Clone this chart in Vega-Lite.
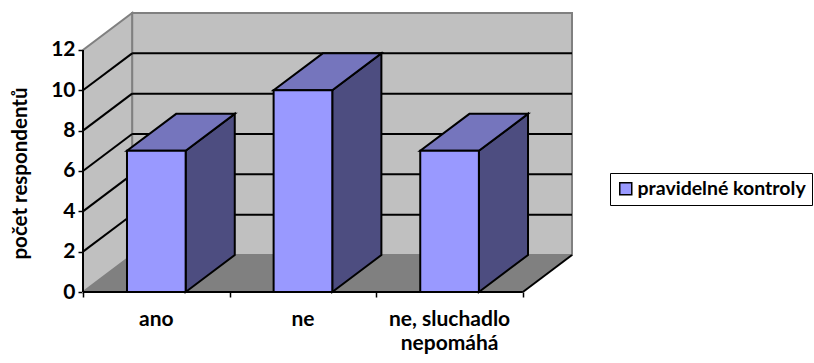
{
  "$schema": "https://vega.github.io/schema/vega-lite/v6.json",
  "width": 489,
  "height": 279,
  "autosize": {"type": "none"},
  "padding": {"left": 83, "top": 13, "right": 242, "bottom": 71},
  "background": "white",
  "params": [
    {"name": "hloubkaX", "value": 0.335},
    {"name": "hloubkaY", "value": 1.834},
    {"name": "maximum", "value": 12},
    {"name": "pocetSkupin", "value": 3}
  ],
  "datasets": {
    "odpovedi": [
      {"odpoved": "ano", "pocet": 7},
      {"odpoved": "ne", "pocet": 10},
      {"odpoved": "ne, sluchadlo\nnepomáhá", "pocet": 7}
    ],
    "mrizka": [
      {"uroven": 2},
      {"uroven": 4},
      {"uroven": 6},
      {"uroven": 8},
      {"uroven": 10}
    ],
    "ram": [{"cast": "ram"}]
  },
  "data": {"name": "odpovedi"},
  "config": {
    "view": {"stroke": null},
    "font": "Lato",
    "axis": {"grid": false, "domain": false, "zindex": 2}
  },
  "layer": [
    {
      "data": {"name": "ram"},
      "transform": [
        {"calculate": "hloubkaX", "as": "x0"},
        {"calculate": "pocetSkupin + hloubkaX", "as": "x1"},
        {"calculate": "hloubkaY", "as": "y0"},
        {"calculate": "maximum + hloubkaY", "as": "y1"}
      ],
      "mark": {"type": "rect", "fill": "#c0c0c0", "stroke": "#808080", "strokeWidth": 2},
      "encoding": {
        "x": {
          "field": "x0", "type": "quantitative",
          "scale": {"domain": [0, 3.335], "nice": false, "zero": false},
          "axis": {
            "values": [0, 1, 2, 3], "labels": false, "title": null,
            "ticks": true, "tickSize": 5, "tickWidth": 1.5, "tickColor": "black"
          }
        },
        "x2": {"field": "x1"},
        "y": {
          "field": "y0", "type": "quantitative",
          "scale": {"domain": [0, 13.834], "nice": false, "zero": false},
          "axis": {
            "values": [0, 2, 4, 6, 8, 10, 12],
            "tickSize": 5, "tickWidth": 1.5, "tickColor": "black",
            "labelFont": "Lato", "labelFontWeight": "bold", "labelFontSize": 21,
            "labelColor": "black", "labelPadding": 3,
            "title": "počet respondentů",
            "titleFont": "Lato", "titleFontWeight": "bold", "titleFontSize": 20.5,
            "titleColor": "black",
            "titleX": -63, "titleY": 160, "titleAngle": -90,
            "titleAlign": "center", "titleBaseline": "middle"
          }
        },
        "y2": {"field": "y1"}
      }
    },
    {
      "data": {"name": "ram"},
      "transform": [
        {"calculate": "[0, 1]", "as": "k"},
        {"flatten": ["k"]},
        {"calculate": "datum.k * hloubkaX", "as": "sx"},
        {"calculate": "datum.k * hloubkaY", "as": "sy0"},
        {"calculate": "maximum + datum.k * hloubkaY", "as": "sy1"}
      ],
      "mark": {"type": "area", "orient": "vertical", "fill": "#c0c0c0", "stroke": "#808080", "strokeWidth": 2},
      "encoding": {
        "x": {"field": "sx", "type": "quantitative"},
        "y": {"field": "sy0", "type": "quantitative", "stack": null},
        "y2": {"field": "sy1"}
      }
    },
    {
      "data": {"name": "ram"},
      "transform": [
        {"calculate": "[0, 1]", "as": "k"},
        {"flatten": ["k"]},
        {"calculate": "datum.k * hloubkaY", "as": "fy"},
        {"calculate": "datum.k * hloubkaX", "as": "fx0"},
        {"calculate": "pocetSkupin + datum.k * hloubkaX", "as": "fx1"}
      ],
      "mark": {"type": "area", "orient": "horizontal", "fill": "#808080"},
      "encoding": {
        "y": {"field": "fy", "type": "quantitative"},
        "x": {"field": "fx0", "type": "quantitative", "stack": null},
        "x2": {"field": "fx1"}
      }
    },
    {
      "data": {"name": "mrizka"},
      "transform": [
        {"calculate": "hloubkaX", "as": "x0"},
        {"calculate": "pocetSkupin + hloubkaX", "as": "x1"},
        {"calculate": "datum.uroven + hloubkaY", "as": "yz"}
      ],
      "mark": {"type": "rule", "color": "black", "strokeWidth": 2},
      "encoding": {
        "x": {"field": "x0", "type": "quantitative"},
        "x2": {"field": "x1"},
        "y": {"field": "yz", "type": "quantitative"}
      }
    },
    {
      "data": {"name": "mrizka"},
      "transform": [
        {"calculate": "0", "as": "x0"},
        {"calculate": "hloubkaX", "as": "x1"},
        {"calculate": "datum.uroven + hloubkaY", "as": "yz"}
      ],
      "mark": {"type": "rule", "color": "black", "strokeWidth": 2},
      "encoding": {
        "x": {"field": "x0", "type": "quantitative"},
        "x2": {"field": "x1"},
        "y": {"field": "uroven", "type": "quantitative"},
        "y2": {"field": "yz"}
      }
    },
    {
      "data": {"name": "ram"},
      "transform": [
        {"calculate": "[0, 1, 2]", "as": "k"},
        {"flatten": ["k"]},
        {"calculate": "datum.k == 2 ? pocetSkupin : 0", "as": "x0"},
        {"calculate": "0", "as": "y0"},
        {"calculate": "datum.k == 0 ? 0 : datum.k == 1 ? pocetSkupin : pocetSkupin + hloubkaX", "as": "x1"},
        {"calculate": "datum.k == 0 ? maximum : datum.k == 1 ? 0 : hloubkaY", "as": "y1"}
      ],
      "mark": {"type": "rule", "color": "black", "strokeWidth": 2},
      "encoding": {
        "x": {"field": "x0", "type": "quantitative"},
        "x2": {"field": "x1"},
        "y": {"field": "y0", "type": "quantitative"},
        "y2": {"field": "y1"}
      }
    },
    {
      "transform": [
        {"window": [{"op": "row_number", "as": "poradi"}]},
        {"calculate": "[0, 1]", "as": "k"},
        {"flatten": ["k"]},
        {"calculate": "datum.poradi - 0.3 + datum.k * hloubkaX", "as": "sx"},
        {"calculate": "datum.k * hloubkaY", "as": "sy0"},
        {"calculate": "datum.pocet + datum.k * hloubkaY", "as": "sy1"}
      ],
      "mark": {"type": "area", "orient": "vertical", "fill": "#4d4d80", "stroke": "black", "strokeWidth": 2, "strokeJoin": "miter"},
      "encoding": {
        "x": {"field": "sx", "type": "quantitative"},
        "y": {"field": "sy0", "type": "quantitative", "stack": null},
        "y2": {"field": "sy1"},
        "detail": {"field": "odpoved"}
      }
    },
    {
      "transform": [
        {"window": [{"op": "row_number", "as": "poradi"}]},
        {"calculate": "[0, 1]", "as": "k"},
        {"flatten": ["k"]},
        {"calculate": "datum.poradi - 0.7 + datum.k * hloubkaX", "as": "tx0"},
        {"calculate": "datum.poradi - 0.3 + datum.k * hloubkaX", "as": "tx1"},
        {"calculate": "datum.pocet + datum.k * hloubkaY", "as": "ty"}
      ],
      "mark": {"type": "area", "orient": "horizontal", "fill": "#7575bd", "stroke": "black", "strokeWidth": 2, "strokeJoin": "miter"},
      "encoding": {
        "y": {"field": "ty", "type": "quantitative"},
        "x": {"field": "tx0", "type": "quantitative", "stack": null},
        "x2": {"field": "tx1"},
        "detail": {"field": "odpoved"}
      }
    },
    {
      "transform": [
        {"window": [{"op": "row_number", "as": "poradi"}]},
        {"calculate": "datum.poradi - 0.7", "as": "x0"},
        {"calculate": "datum.poradi - 0.3", "as": "x1"}
      ],
      "mark": {"type": "rect", "stroke": "black", "strokeWidth": 2, "strokeJoin": "miter"},
      "encoding": {
        "x": {"field": "x0", "type": "quantitative"},
        "x2": {"field": "x1"},
        "y": {"field": "pocet", "type": "quantitative"},
        "y2": {"datum": 0},
        "color": {
          "datum": "pravidelné kontroly",
          "type": "nominal",
          "scale": {"range": ["#9999ff"]},
          "legend": {
            "title": null,
            "orient": "none",
            "legendX": 527,
            "legendY": 160,
            "strokeColor": "black",
            "fillColor": "white",
            "padding": 6,
            "symbolType": "square",
            "symbolSize": 144,
            "symbolStrokeColor": "black",
            "symbolStrokeWidth": 1.5,
            "symbolOpacity": 1,
            "labelFont": "Lato",
            "labelFontWeight": "bold",
            "labelFontSize": 19.5,
            "labelLimit": 400,
            "labelColor": "black",
            "labelOffset": 2
          }
        }
      }
    },
    {
      "transform": [
        {"window": [{"op": "row_number", "as": "poradi"}]},
        {"calculate": "datum.poradi - 0.5", "as": "xs"}
      ],
      "mark": {
        "type": "text", "font": "Lato", "fontWeight": "bold", "fontSize": 21,
        "color": "black", "align": "center", "baseline": "alphabetic",
        "dy": 34, "lineBreak": "\n", "lineHeight": 24
      },
      "encoding": {
        "x": {"field": "xs", "type": "quantitative"},
        "y": {"datum": 0, "type": "quantitative"},
        "text": {"field": "odpoved"}
      }
    }
  ]
}
